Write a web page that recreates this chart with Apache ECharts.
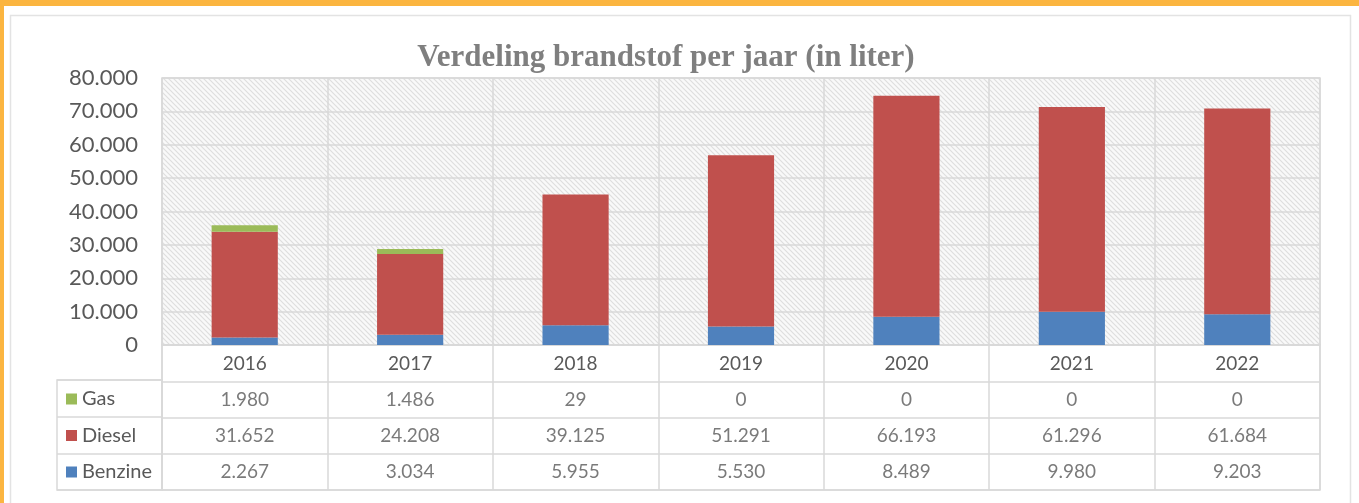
<!DOCTYPE html>
<html lang="nl">
<head>
    <meta charset="UTF-8">
    <title>Verdeling brandstof per jaar</title>
    <style>
        html, body { margin: 0; padding: 0; background: #fff; }
        .container { width: 1359px; height: 503px; }
    </style>
    <script src="https://cdn.jsdelivr.net/npm/echarts@6/dist/echarts.min.js"></script>
</head>
<body>
    <div class="container"></div>
    <script>
        // data uit de grafiek
        var jaren = ['2016', '2017', '2018', '2019', '2020', '2021', '2022'];
        var benzine = [2267, 3034, 5955, 5530, 8489, 9980, 9203];
        var diesel = [31652, 24208, 39125, 51291, 66193, 61296, 61684];
        var gas = [1980, 1486, 29, 0, 0, 0, 0];
        var yTicks = [0, 10000, 20000, 30000, 40000, 50000, 60000, 70000, 80000];

        var kleuren = { Benzine: '#4F81BD', Diesel: '#C0504D', Gas: '#9BBB59' };
        var tekstKleur = '#595959';
        var lijnKleur = '#d9d9d9';
        var font = 'Lato';

        // punt als duizendtal scheiding
        function fmt(v) {
            return String(v).replace(/\B(?=(\d{3})+(?!\d))/g, '.');
        }

        // arcering van het plotvlak
        var arcering = document.createElement('canvas');
        arcering.width = 5;
        arcering.height = 5;
        var ctx = arcering.getContext('2d');
        ctx.fillStyle = '#f9f9f9';
        ctx.fillRect(0, 0, 5, 5);
        ctx.strokeStyle = '#dedede';
        ctx.lineWidth = 1.2;
        ctx.beginPath();
        ctx.moveTo(-1, -1); ctx.lineTo(6, 6);
        ctx.moveTo(-1, 4); ctx.lineTo(1, 6);
        ctx.moveTo(4, -1); ctx.lineTo(6, 1);
        ctx.stroke();

        // tabelrijen (y = midden van de rij)
        var rijen = [['Gas', gas, 1.5], ['Diesel', diesel, 2.5], ['Benzine', benzine, 3.5]];
        var tabelSeries = rijen.map(function (r) {
            return {
                name: 'tabel-' + r[0],
                type: 'scatter',
                xAxisIndex: 1,
                yAxisIndex: 1,
                symbolSize: 0,
                silent: true,
                data: jaren.map(function (j, i) { return [j, r[2], r[1][i]]; }),
                label: {
                    show: true,
                    position: 'inside',
                    fontFamily: font,
                    fontSize: 19,
                    color: tekstKleur,
                    formatter: function (p) { return fmt(p.value[2]); }
                }
            };
        });

        function balk(naam, waarden) {
            return {
                name: naam,
                type: 'bar',
                stack: 'totaal',
                barWidth: '40%',
                itemStyle: { color: kleuren[naam] },
                data: waarden
            };
        }

        var myChart = echarts.init(document.querySelector('.container'));
        myChart.setOption({
            backgroundColor: '#fff',
            animation: false,
            title: {
                text: 'Verdeling brandstof per jaar (in liter)',
                left: 661,
                textAlign: 'center',
                top: 37,
                textStyle: { fontFamily: 'Liberation Serif', fontWeight: 'bold', fontSize: 31, color: '#7f7f7f' }
            },
            graphic: [
                { type: 'rect', shape: { x: 0, y: 0, width: 1359, height: 6 }, style: { fill: '#FBB540' }, z: 100 },
                { type: 'rect', shape: { x: 0, y: 0, width: 4, height: 503 }, style: { fill: '#FBB540' }, z: 100 },
                { type: 'rect', shape: { x: 10.5, y: 15.5, width: 1340, height: 520 }, style: { fill: null, stroke: '#e3e3e3', lineWidth: 1.5 }, z: -1 }
            ],
            legend: {
                data: ['Gas', 'Diesel', 'Benzine'],
                orient: 'vertical',
                left: 61,
                top: 384,
                itemWidth: 11,
                itemHeight: 11,
                itemGap: 16.5,
                icon: 'rect',
                selectedMode: false,
                textStyle: { fontFamily: font, fontSize: 20, color: tekstKleur, lineHeight: 20 }
            },
            grid: [
                { left: 162, right: 39, top: 78, height: 267, show: true, borderColor: lijnKleur, borderWidth: 1.5,
                  backgroundColor: { image: arcering, repeat: 'repeat' } },
                { left: 162, right: 39, top: 345, height: 145, show: true, borderColor: lijnKleur, borderWidth: 1.5 },
                { left: 57, width: 105, top: 380, height: 110, show: true, borderColor: lijnKleur, borderWidth: 1.5 }
            ],
            xAxis: [
                { type: 'category', gridIndex: 0, data: jaren,
                  axisTick: { show: false },
                  axisLine: { lineStyle: { color: lijnKleur, width: 1.5 } },
                  splitLine: { show: true, lineStyle: { color: lijnKleur, width: 1.5 } },
                  axisLabel: { fontFamily: font, fontSize: 19, color: tekstKleur, margin: 9 } },
                { type: 'category', gridIndex: 1, data: jaren,
                  axisTick: { show: false }, axisLine: { show: false }, axisLabel: { show: false },
                  splitLine: { show: true, lineStyle: { color: lijnKleur, width: 1.5 } } },
                { type: 'value', gridIndex: 2, show: false }
            ],
            yAxis: [
                { type: 'value', gridIndex: 0, min: yTicks[0], max: yTicks[yTicks.length - 1], interval: yTicks[1] - yTicks[0],
                  axisLine: { show: false }, axisTick: { show: false },
                  splitLine: { lineStyle: { color: lijnKleur, width: 1.5 } },
                  axisLabel: { fontFamily: font, fontSize: 22, color: tekstKleur, margin: 24, formatter: fmt } },
                { type: 'value', gridIndex: 1, min: 0, max: 4, interval: 1, inverse: true,
                  axisLine: { show: false }, axisTick: { show: false }, axisLabel: { show: false },
                  splitLine: { show: true, lineStyle: { color: lijnKleur, width: 1.5 } } },
                { type: 'value', gridIndex: 2, min: 0, max: 3, interval: 1,
                  axisLine: { show: false }, axisTick: { show: false }, axisLabel: { show: false },
                  splitLine: { show: true, lineStyle: { color: lijnKleur, width: 1.5 } } }
            ],
            series: [balk('Benzine', benzine), balk('Diesel', diesel), balk('Gas', gas)].concat(tabelSeries)
        });
    </script>
</body>
</html>
